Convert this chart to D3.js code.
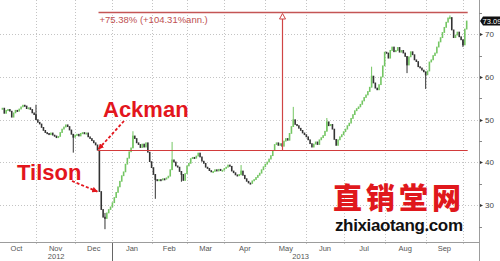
<!DOCTYPE html>
<html>
<head>
<meta charset="utf-8">
<script src="https://cdn.jsdelivr.net/npm/d3@7"></script>
<style>
  html, body { margin: 0; padding: 0; background: #fff; }
  svg { display: block; font-family: "Liberation Sans", Arial, sans-serif; }
</style>
</head>
<body>
<svg id="chart" width="500" height="261"></svg>
<script>
// ---------------------------------------------------------
// Daily price chart, Oct 2012 – Sep 2013 (trading-day axis)
// ---------------------------------------------------------

// trading-day index of the first candle (Nov 1 2012 = 0)
const FIRST_IDX = -18;

// daily closes
const closes = [
  52.7, 51.5, 52.2, 52.4, 52.0, 50.6, 51.6, 52.2, 52.0, 52.5,
  53.0, 53.4, 53.2, 52.6, 52.8, 52.4, 51.6, 51.2, 50.0,
  49.4, 49.0, 48.2, 47.5, 47.0, 46.8, 46.5, 46.9, 46.4, 46.2,
  45.8, 46.1, 47.0, 47.8, 48.3, 48.8, 48.4, 47.6, 46.6, 45.9,
  46.4, 46.6, 46.2, 46.8, 47.0, 46.7, 46.9, 46.0, 45.6, 45.1, 44.6, 44.1, 42.9,
  33.2, 29.0, 27.2, 26.9, 28.2, 29.0, 29.6, 30.6, 31.8, 33.0,
  34.3, 35.6, 36.9, 37.8, 39.6, 41.0, 42.5, 43.4,
  46.2, 45.6, 44.6, 44.2, 43.5, 44.3, 43.6, 44.6, 42.4, 40.2,
  38.8, 37.2, 36.0, 35.8, 36.0, 35.9, 36.2, 36.1, 36.4, 36.8, 38.3,
  40.6, 40.1, 39.2, 38.9, 37.9, 37.2, 35.8, 37.4, 39.2, 39.8,
  40.9, 41.2, 41.0, 41.5, 42.2, 41.3, 40.3, 39.8, 38.9, 38.6,
  38.1, 37.8, 37.9, 38.3, 38.0, 38.4, 38.1,
  38.2, 38.6, 38.9, 39.4, 39.1, 38.0, 37.6, 37.1, 36.9, 37.2,
  38.0, 37.0, 36.2, 35.6, 35.2, 35.1, 35.7, 36.0, 36.5, 37.0,
  37.5, 38.3, 39.0, 39.6, 40.1, 40.8, 41.6, 42.8,
  44.2, 44.6, 44.0, 44.4, 43.8, 45.0, 45.6, 45.2, 46.8, 48.4,
  50.0, 48.9, 48.6, 48.0, 47.5, 46.9, 46.5, 46.0, 45.3, 44.4,
  43.6, 44.3, 44.8, 44.2, 45.3, 45.8, 46.3, 47.3,
  49.5, 48.6, 48.9, 47.8, 45.4, 44.0, 45.3, 46.0, 46.5, 47.2,
  47.8, 48.6, 49.2, 50.3, 51.2, 52.1, 52.6, 53.0, 53.6, 54.4,
  55.2, 55.8, 56.6, 57.6,
  60.2, 58.6, 57.4, 57.0, 58.2, 60.0, 62.6, 65.8, 65.6, 64.4,
  66.2, 67.0, 65.9, 66.2, 66.9, 65.8, 66.2, 65.6, 64.8, 62.8,
  64.7, 65.9, 65.2, 64.0, 63.6, 62.4, 62.1, 61.6, 61.2, 60.5,
  61.4, 63.5, 64.0, 65.0, 65.6, 67.0, 68.2, 69.2, 70.4, 71.6,
  72.8, 73.8, 73.9, 71.0, 69.2, 69.8, 70.5, 69.4, 68.7, 67.5,
  71.2, 73.09
];

// visible wicks: [trading-day index, low, high]
const wicks = [
  [0, 50.0, 53.5], [20, 42.3, 46.6], [37, 24.4, 28.2], [52, 43.4, 47.3],
  [64, 31.5, 37.2], [73, 38.3, 44.8], [78, 35.5, 37.9], [110, 37.0, 39.4],
  [138, 48.4, 53.0], [156, 47.3, 50.4], [180, 57.6, 62.4], [199, 60.9, 64.8],
  [209, 57.2, 61.2], [222, 73.8, 74.4], [229, 67.0, 68.7]
];

// month axis (trading-day index of each month's first session)
const monthLabels = ["Oct", "Nov", "Dec", "Jan", "Feb", "Mar", "Apr", "May", "Jun", "Jul", "Aug", "Sep"];
const monthStarts = [-21, 0, 21, 41, 62, 81, 101, 123, 145, 165, 187, 209, 229];
const yearLabels  = ["2012", "2013"];
const yearStarts  = [-21, 41];
const yearEnds    = [41, 251];

const yTicks      = [30, 40, 50, 60, 70];
const yMinorTicks = [25, 35, 45, 55, 65, 75];

// annotation values
const BASE_PRICE   = 42.9;   // Ackman entry level
const GAIN_PCT     = 75.38;
const GAIN_ANN_PCT = 104.31;
const LAST_PRICE   = 73.09;
const ENTRY_IDX    = 33;
const LAST_IDX     = 231;
const MEASURE_IDX  = 132;
const DROP_IDX     = 34;

// ---------------------------------------------------------
// SCALES
// ---------------------------------------------------------
const PLOT_R = 479, PLOT_B = 242;
const X_DOMAIN = [-19.3, 237.6];
const x = d3.scaleLinear().domain(X_DOMAIN).range([0, PLOT_R]);
const y = d3.scaleLinear().domain([21.4, 78]).range([PLOT_B, 0]);

const svg = d3.select("#chart");

// ---------------------------------------------------------
// GRID
// ---------------------------------------------------------
const grid = svg.append("g")
  .attr("stroke", "#c4c4c4")
  .attr("stroke-dasharray", "1,2");

grid.selectAll("line.h").data(yTicks).join("line")
  .attr("class", "h")
  .attr("x1", 0).attr("x2", PLOT_R)
  .attr("y1", d => Math.round(y(d)) + 0.5)
  .attr("y2", d => Math.round(y(d)) + 0.5);

const gridMonths = monthStarts.filter(d => d > X_DOMAIN[0] && d < X_DOMAIN[1]);
grid.selectAll("line.v").data(gridMonths).join("line")
  .attr("class", "v")
  .attr("x1", d => Math.round(x(d)) + 0.5)
  .attr("x2", d => Math.round(x(d)) + 0.5)
  .attr("y1", 0).attr("y2", PLOT_B + 4);

// ---------------------------------------------------------
// CANDLES (body = previous close -> close)
// ---------------------------------------------------------
const UP = "#74c663", DOWN = "#333333";
const bars = closes.map((c, i) => ({
  idx: FIRST_IDX + i,
  open: i ? closes[i - 1] : c,
  close: c
}));
const barByIdx = new Map(bars.map(d => [d.idx, d]));

svg.append("g").selectAll("line")
  .data(wicks).join("line")
  .attr("x1", d => x(d[0])).attr("x2", d => x(d[0]))
  .attr("y1", d => y(d[1])).attr("y2", d => y(d[2]))
  .attr("stroke", d => {
    const b = barByIdx.get(d[0]);
    return b && b.close >= b.open ? UP : DOWN;
  })
  .attr("stroke-width", 1);

svg.append("g").selectAll("rect")
  .data(bars).join("rect")
  .attr("x", d => x(d.idx) - 0.8)
  .attr("width", 1.6)
  .attr("y", d => y(Math.max(d.open, d.close)) - 0.4)
  .attr("height", d => Math.max(2, Math.abs(y(d.open) - y(d.close)) + 0.8))
  .attr("fill", d => d.close >= d.open ? UP : DOWN);

// ---------------------------------------------------------
// AXES
// ---------------------------------------------------------
svg.append("line")
  .attr("x1", 0).attr("x2", PLOT_R)
  .attr("y1", PLOT_B + 0.5).attr("y2", PLOT_B + 0.5)
  .attr("stroke", "#9c9c9c");
svg.append("line")
  .attr("x1", PLOT_R + 0.5).attr("x2", PLOT_R + 0.5)
  .attr("y1", 0).attr("y2", 261)
  .attr("stroke", "#9c9c9c");

// year separator
svg.append("line")
  .attr("x1", Math.round(x(yearStarts[1])) + 0.5)
  .attr("x2", Math.round(x(yearStarts[1])) + 0.5)
  .attr("y1", PLOT_B + 1).attr("y2", 261)
  .attr("stroke", "#666");

svg.append("g").selectAll("text")
  .data(monthLabels).join("text")
  .attr("x", (d, i) => x((monthStarts[i] + monthStarts[i + 1]) / 2))
  .attr("y", 251)
  .attr("text-anchor", "middle")
  .attr("font-size", 7.5)
  .attr("fill", "#555")
  .text(d => d);

svg.append("g").selectAll("text")
  .data(yearLabels).join("text")
  .attr("x", (d, i) => {
    const a = Math.max(yearStarts[i], X_DOMAIN[0]);
    const b = Math.min(yearEnds[i], X_DOMAIN[1]);
    return x((a + b) / 2) + (i ? 5 : 0);
  })
  .attr("y", 259)
  .attr("text-anchor", "middle")
  .attr("font-size", 7.5)
  .attr("fill", "#555")
  .text(d => d);

// y ticks + labels
svg.append("g").selectAll("line")
  .data(yMinorTicks).join("line")
  .attr("x1", PLOT_R).attr("x2", PLOT_R + 3)
  .attr("y1", d => Math.round(y(d)) + 0.5)
  .attr("y2", d => Math.round(y(d)) + 0.5)
  .attr("stroke", "#888");

svg.append("g").selectAll("path")
  .data(yTicks).join("path")
  .attr("d", d => {
    const yy = Math.round(y(d)) + 0.5;
    return `M${PLOT_R + 1},${yy - 1.5}L${PLOT_R + 4},${yy}L${PLOT_R + 1},${yy + 1.5}Z`;
  })
  .attr("fill", "#333");

svg.append("g").selectAll("text")
  .data(yTicks).join("text")
  .attr("x", PLOT_R + 6)
  .attr("y", d => y(d) + 3)
  .attr("font-size", 8)
  .attr("fill", "#444")
  .text(d => d);

// last price tag
const ly = y(LAST_PRICE);
svg.append("path")
  .attr("d", `M${PLOT_R + 1},${ly}L${PLOT_R + 4},${ly - 4.5}H500V${ly + 4.5}H${PLOT_R + 4}Z`)
  .attr("fill", "#111");
svg.append("text")
  .attr("x", 492).attr("y", ly + 2.8)
  .attr("text-anchor", "middle")
  .attr("font-size", 7.5)
  .attr("fill", "#fff")
  .text(LAST_PRICE.toFixed(2));

// ---------------------------------------------------------
// MEASURE ANNOTATION
// ---------------------------------------------------------
const topPrice = BASE_PRICE * (1 + GAIN_PCT / 100);
const x0 = x(ENTRY_IDX), x1 = x(LAST_IDX) + 1;
const yb = Math.round(y(BASE_PRICE)) + 0.5;
const yt = Math.round(y(topPrice)) + 0.5;
const xm = Math.round(x(MEASURE_IDX)) + 0.5;

svg.append("line")
  .attr("x1", x0).attr("x2", x1).attr("y1", yb).attr("y2", yb)
  .attr("stroke", "#d23b3b").attr("stroke-width", 1.2);
svg.append("line")
  .attr("x1", x0 + 1).attr("x2", x1).attr("y1", yt).attr("y2", yt)
  .attr("stroke", "#c45555").attr("stroke-width", 1.4);
svg.append("line")
  .attr("x1", xm).attr("x2", xm).attr("y1", yb).attr("y2", yt + 6)
  .attr("stroke", "#d04545").attr("stroke-width", 1.2);
svg.append("path")
  .attr("d", `M${xm - 3},${yt + 6.5}L${xm},${yt + 1}L${xm + 3},${yt + 6.5}Z`)
  .attr("fill", "#fff").attr("stroke", "#d04545").attr("stroke-width", 1);

svg.append("text")
  .attr("x", x0 + 2).attr("y", yt + 10.5)
  .attr("font-size", 9.5)
  .attr("fill", "#c05050")
  .text(`+${GAIN_PCT.toFixed(2)}% (+${GAIN_ANN_PCT.toFixed(2)}%ann.)`);

// ---------------------------------------------------------
// CALLOUTS
// ---------------------------------------------------------
const RED = "#e3161d";
svg.append("defs").append("marker")
  .attr("id", "ah")
  .attr("viewBox", "0 0 10 10")
  .attr("refX", 9).attr("refY", 5)
  .attr("markerWidth", 3.2).attr("markerHeight", 3.2)
  .attr("orient", "auto")
  .append("path").attr("d", "M0,0L10,5L0,10Z").attr("fill", RED);

svg.append("text")
  .attr("x", 103).attr("y", 117)
  .attr("font-size", 22).attr("font-weight", "bold")
  .attr("fill", RED)
  .text("Ackman");
svg.append("line")
  .attr("x1", 124).attr("y1", 121)
  .attr("x2", x0 + 1).attr("y2", y(closes[ENTRY_IDX - FIRST_IDX]) - 1)
  .attr("stroke", RED).attr("stroke-width", 1.8)
  .attr("stroke-dasharray", "3,2")
  .attr("marker-end", "url(#ah)");

svg.append("text")
  .attr("x", 17).attr("y", 180)
  .attr("font-size", 22).attr("font-weight", "bold")
  .attr("fill", RED)
  .text("Tilson");
svg.append("line")
  .attr("x1", 72).attr("y1", 181)
  .attr("x2", x(DROP_IDX) - 2).attr("y2", y(closes[DROP_IDX - FIRST_IDX]))
  .attr("stroke", RED).attr("stroke-width", 1.8)
  .attr("stroke-dasharray", "3,2")
  .attr("marker-end", "url(#ah)");

// ---------------------------------------------------------
// WATERMARK
// ---------------------------------------------------------
svg.append("text")
  .attr("x", 333).attr("y", 209)
  .attr("font-family", "'Noto Sans CJK SC', sans-serif")
  .attr("font-size", 29).attr("font-weight", 900)
  .attr("letter-spacing", 4)
  .attr("fill", "#e0181c")
  .text("直销堂网");
svg.append("text")
  .attr("x", 335).attr("y", 231)
  .attr("font-size", 17).attr("font-weight", "bold")
  .attr("textLength", 128)
  .attr("fill", "#111")
  .text("zhixiaotang.com");
</script>
</body>
</html>
